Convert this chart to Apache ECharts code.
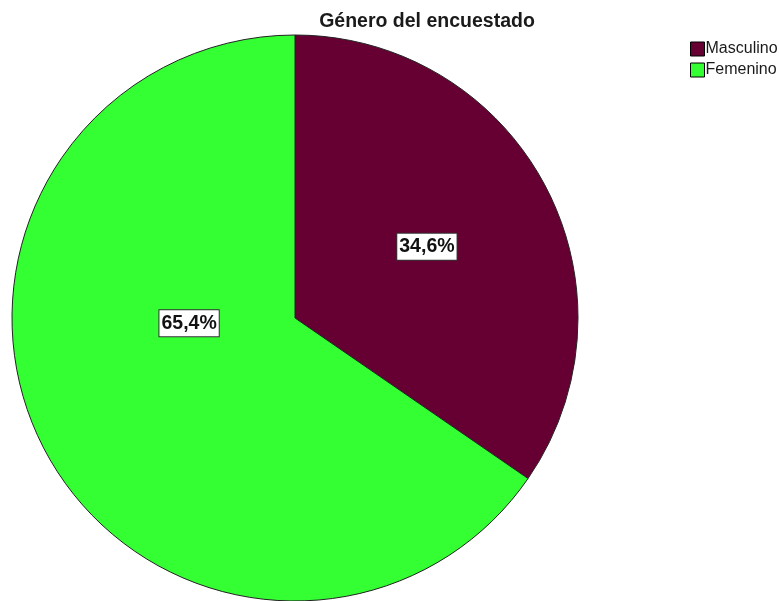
<!DOCTYPE html>
<html>
<head>
<meta charset="utf-8">
<script src="https://cdn.jsdelivr.net/npm/echarts@6/dist/echarts.min.js"></script>
<style>
  html, body { margin: 0; padding: 0; background: #ffffff; }
  #chart { width: 779px; height: 601px; }
</style>
</head>
<body>
<div id="chart"></div>
<script>
// datos del gráfico
const categorias = ['Masculino', 'Femenino'];
const porcentajes = [34.6, 65.4];
const colores = ['#660033', '#33ff33'];
// desplazamiento de las etiquetas (SPSS no las pone en el centro del sector)
const desplazamientos = [[4, -4], [22, -62]];

const myChart = echarts.init(document.getElementById('chart'));

const option = {
  animation: false,
  title: {
    text: 'Género del encuestado',
    left: 422,
    top: 7,
    textAlign: 'center',
    textStyle: {
      fontFamily: 'Liberation Sans, Arial',
      fontSize: 19.5,
      fontWeight: 'bold',
      color: '#1a1a1a'
    }
  },
  legend: {
    orient: 'vertical',
    left: 685,
    top: 36,
    itemWidth: 14,
    itemHeight: 14,
    itemGap: 5,
    icon: 'rect',
    itemStyle: { borderColor: '#000', borderWidth: 1 },
    textStyle: {
      fontFamily: 'Liberation Sans, Arial',
      fontSize: 16,
      color: '#1a1a1a',
      padding: [0, 0, 0, -4]
    },
    data: categorias
  },
  series: [
    {
      type: 'pie',
      center: [295, 318],
      radius: [0, 283],
      startAngle: 90,
      clockwise: true,
      silent: true,
      itemStyle: { borderColor: '#222', borderWidth: 1 },
      labelLine: { show: false },
      label: {
        show: true,
        position: 'inside',
        formatter: p => p.value.toFixed(1).replace('.', ',') + '%',
        fontFamily: 'Liberation Sans, Arial',
        fontSize: 19.5,
        fontWeight: 'bold',
        color: '#111',
        backgroundColor: '#fff',
        borderColor: '#333',
        borderWidth: 1,
        padding: [4, 2, 2, 2]
      },
      data: categorias.map((c, i) => ({
        name: c,
        value: porcentajes[i],
        itemStyle: { color: colores[i] },
        label: { offset: desplazamientos[i] }
      }))
    }
  ]
};

myChart.setOption(option);
</script>
</body>
</html>
